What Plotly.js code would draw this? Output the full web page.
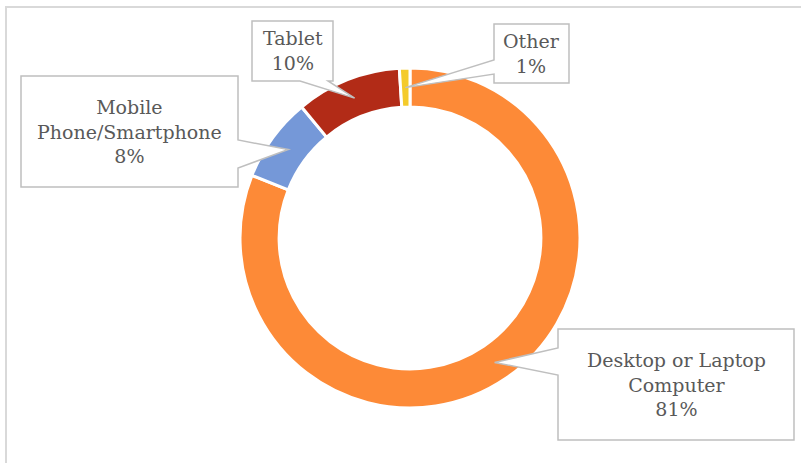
<!DOCTYPE html>
<html>
<head>
<meta charset="utf-8">
<script src="https://cdn.plot.ly/plotly-3.0.1.min.js"></script>
<style>
  html, body { margin: 0; padding: 0; background: #ffffff; }
  #chart { width: 801px; height: 463px; }
</style>
</head>
<body>
<div id="chart"></div>
<script>
// Device share, clockwise from 12 o'clock
const devices = ['Desktop or Laptop Computer', 'Mobile Phone/Smartphone', 'Tablet', 'Other'];
const shares = [81, 8, 10, 1];
const sliceColors = ['#FD8A37', '#7598D8', '#B22B17', '#F4CB2B'];
const labelLines = [
    ['Desktop or Laptop', 'Computer'],
    ['Mobile', 'Phone/Smartphone'],
    ['Tablet'],
    ['Other']
];

const W = 801, H = 463;
const px = x => x / W;
const py = y => 1 - y / H;

// ring placement (pixels)
const cx = 410, cy = 238, outerR = 170, hole = 0.77;
const midR = outerR * (1 + hole) / 2;

// callout boxes [left, top, right, bottom] and wedge base on one edge
const boxes = [
    { r: [558, 329, 794, 440], base: [[558, 348], [558, 375]] },
    { r: [21, 76, 238, 187], base: [[238, 140], [238, 168]] },
    { r: [252, 21, 333, 81], base: [[300, 81], [328, 81]] },
    { r: [494, 24, 569, 83], base: [[494, 60], [494, 74]] }
];

const total = shares.reduce((a, b) => a + b, 0);

// tip of each callout = middle of its slice on the ring
let cum = 0;
const tips = shares.map(v => {
    const mid = (cum + v / 2) / total;
    cum += v;
    const a = mid * 2 * Math.PI;
    return [cx + midR * Math.sin(a), cy - midR * Math.cos(a)];
});

// build callout outline: rectangle with a wedge pointing at the slice
function calloutPath(box, tip) {
    const [l, t, r, b] = box.r;
    const [p1, p2] = box.base;
    let pts;
    if (p1[0] === r && p2[0] === r) {
        pts = [[l, t], [r, t], p1, tip, p2, [r, b], [l, b]];
    } else if (p1[0] === l && p2[0] === l) {
        pts = [[l, t], [r, t], [r, b], [l, b], p2, tip, p1];
    } else if (p1[1] === b) {
        pts = [[l, t], [r, t], [r, b], p2, tip, p1, [l, b]];
    } else {
        pts = [[l, t], p1, tip, p2, [r, t], [r, b], [l, b]];
    }
    return 'M ' + pts.map(p => px(p[0]).toFixed(5) + ',' + py(p[1]).toFixed(5)).join(' L ') + ' Z';
}

const shapes = [{
    type: 'rect', xref: 'paper', yref: 'paper',
    x0: px(6), y0: py(7), x1: 1.05, y1: -0.05,
    line: { color: '#D9D9D9', width: 2 }, layer: 'below'
}];

const annotations = [];
devices.forEach((d, i) => {
    shapes.push({
        type: 'path', xref: 'paper', yref: 'paper',
        path: calloutPath(boxes[i], tips[i]),
        line: { color: '#BFBFBF', width: 1.5 },
        fillcolor: '#FFFFFF', layer: 'above'
    });
    const [l, t, r, b] = boxes[i].r;
    annotations.push({
        xref: 'paper', yref: 'paper',
        x: px((l + r) / 2), y: py((t + b) / 2),
        xanchor: 'center', yanchor: 'middle', align: 'center',
        showarrow: false,
        text: labelLines[i].concat([Math.round(shares[i] / total * 100) + '%']).join('<br>'),
        font: { family: 'DejaVu Serif', size: 19, color: '#595959' }
    });
});

const trace = {
    type: 'pie',
    labels: devices,
    values: shares,
    sort: false,
    direction: 'clockwise',
    rotation: 0,
    hole: hole,
    textinfo: 'none',
    hoverinfo: 'label+percent',
    marker: { colors: sliceColors, line: { color: '#FFFFFF', width: 3 } },
    domain: { x: [px(cx - outerR), px(cx + outerR)], y: [py(cy + outerR), py(cy - outerR)] }
};

const layout = {
    autosize: false,
    width: W,
    height: H,
    margin: { l: 0, r: 0, t: 0, b: 0, pad: 0 },
    showlegend: false,
    paper_bgcolor: '#FFFFFF',
    shapes: shapes,
    annotations: annotations
};

Plotly.newPlot('chart', [trace], layout, { displayModeBar: false, staticPlot: true });
</script>
</body>
</html>
